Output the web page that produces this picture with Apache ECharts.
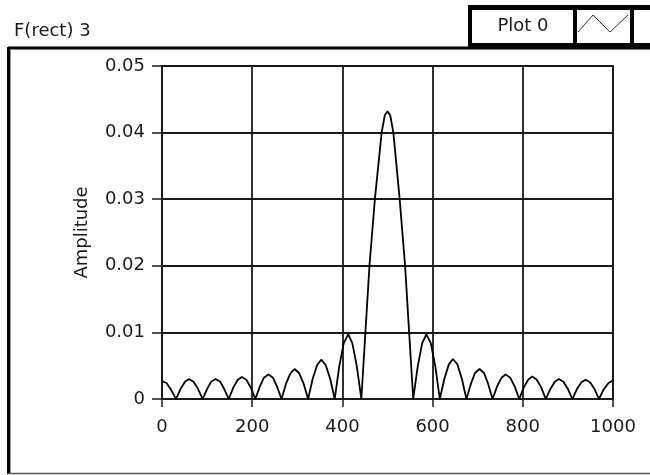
<!DOCTYPE html>
<html>
<head>
<meta charset="utf-8">
<script src="https://cdn.jsdelivr.net/npm/echarts@6/dist/echarts.min.js"></script>
<style>
	html, body { margin: 0; padding: 0; background: #fff; }
	#chart { width: 650px; height: 475px; }
</style>
</head>
<body>
<div id="chart"></div>
<script>
// 曲线数据 (x, 幅值)
var xs = [
	0, 10, 20, 31,
	41, 51, 60, 70, 80, 90,
	100, 109, 119, 129, 138, 148,
	158, 168, 177, 187, 197, 207,
	217, 226, 236, 246, 255, 265,
	275, 285, 294, 304, 314, 324,
	334, 344, 353, 363, 373, 383,
	393, 403, 413, 422, 432, 442,
	451, 460, 472, 487, 494, 500, 506, 513, 527, 539, 548, 557,
	567, 577, 586, 596, 606, 616,
	626, 636, 645, 655, 665, 675,
	685, 694, 704, 714, 723, 733,
	743, 753, 762, 772, 782, 792,
	802, 812, 821, 831, 841, 851,
	861, 871, 880, 890, 900, 910,
	920, 930, 939, 949, 959, 969,
	979, 990, 1000
];
var amps = [
	0.0027, 0.0024, 0.0014, 0,
	0.0015, 0.0026, 0.0030, 0.0026, 0.0015, 0,
	0.0015, 0.0026, 0.0030, 0.0026, 0.0015, 0,
	0.0017, 0.0029, 0.0033, 0.0029, 0.0017, 0,
	0.0019, 0.0032, 0.0037, 0.0032, 0.0019, 0,
	0.0023, 0.0039, 0.0045, 0.0039, 0.0023, 0,
	0.0030, 0.0051, 0.0059, 0.0051, 0.0030, 0,
	0.0049, 0.0084, 0.0097, 0.0084, 0.0049, 0,
	0.010, 0.020, 0.030, 0.040, 0.0426, 0.0432, 0.0426, 0.040, 0.030, 0.020, 0.010, 0,
	0.0049, 0.0084, 0.0097, 0.0084, 0.0049, 0,
	0.0030, 0.0052, 0.0060, 0.0052, 0.0030, 0,
	0.0023, 0.0039, 0.0045, 0.0039, 0.0023, 0,
	0.0019, 0.0032, 0.0037, 0.0032, 0.0019, 0,
	0.0017, 0.0029, 0.0034, 0.0029, 0.0017, 0,
	0.0015, 0.0026, 0.0030, 0.0026, 0.0015, 0,
	0.0015, 0.0025, 0.0029, 0.0025, 0.0015, 0,
	0.0014, 0.0024, 0.0028
];
var xTicks = [0, 200, 400, 600, 800, 1000];
var yTicks = [0, 0.01, 0.02, 0.03, 0.04, 0.05];

var chartTitle = 'F(rect) 3';
var plotName = 'Plot 0';
var yName = 'Amplitude';

var points = [];
for (var i = 0; i < xs.length; i++) {
	points.push([xs[i], amps[i]]);
}

var font = 'DejaVu Sans';
var ink = '#1a1a1a';

var myChart = echarts.init(document.getElementById('chart'), null, { renderer: 'canvas' });

var option = {
	backgroundColor: '#ffffff',
	animation: false,
	title: {
		text: chartTitle,
		left: 9,
		top: 17,
		textStyle: { fontFamily: font, fontSize: 18, fontWeight: 'normal', color: ink }
	},
	grid: {
		left: 162,
		right: 37,
		top: 66,
		bottom: 76,
		show: true,
		borderColor: ink,
		borderWidth: 1.8,
		backgroundColor: 'transparent'
	},
	xAxis: {
		type: 'value',
		min: xTicks[0],
		max: xTicks[xTicks.length - 1],
		interval: 200,
		offset: 4,
		axisLine: { show: false },
		axisTick: { show: true, length: 8, lineStyle: { color: ink, width: 1.5 } },
		axisLabel: {
			margin: 15,
			fontFamily: font,
			fontSize: 18,
			color: ink,
			formatter: function(v) { return String(v); }
		},
		splitLine: { show: true, lineStyle: { color: ink, width: 1.8 } }
	},
	yAxis: {
		type: 'value',
		min: yTicks[0],
		max: yTicks[yTicks.length - 1],
		interval: 0.01,
		offset: 3,
		name: yName,
		nameLocation: 'middle',
		nameGap: 68,
		nameTextStyle: { fontFamily: font, fontSize: 18, color: ink },
		axisLine: { show: false },
		axisTick: { show: true, length: 10, lineStyle: { color: ink, width: 1.5 } },
		axisLabel: { margin: 14, fontFamily: font, fontSize: 18, color: ink },
		splitLine: { show: true, lineStyle: { color: ink, width: 1.8 } }
	},
	series: [{
		name: plotName,
		type: 'line',
		data: points,
		showSymbol: false,
		lineStyle: { color: '#000', width: 1.8 },
		z: 5
	}],
	graphic: [
		// 外框
		{ type: 'line', shape: { x1: 8, y1: 48, x2: 650, y2: 48 }, style: { stroke: '#000', lineWidth: 3 }, z: 1 },
		{ type: 'line', shape: { x1: 8.5, y1: 47, x2: 8.5, y2: 474 }, style: { stroke: '#000', lineWidth: 3 }, z: 1 },
		{ type: 'line', shape: { x1: 10.5, y1: 50, x2: 10.5, y2: 473 }, style: { stroke: '#999', lineWidth: 1 }, z: 1 },
		{ type: 'line', shape: { x1: 8, y1: 473.5, x2: 650, y2: 473.5 }, style: { stroke: '#555', lineWidth: 1.5 }, z: 1 },
		// 图例
		{ type: 'rect', shape: { x: 468, y: 5, width: 182, height: 43 }, style: { fill: '#000' }, z: 2 },
		{ type: 'rect', shape: { x: 472, y: 10, width: 101, height: 33 }, style: { fill: '#fff' }, z: 3 },
		{ type: 'rect', shape: { x: 577, y: 10, width: 53, height: 33 }, style: { fill: '#fff' }, z: 3 },
		{ type: 'rect', shape: { x: 634, y: 10, width: 16, height: 33 }, style: { fill: '#fff' }, z: 3 },
		{
			type: 'text', x: 523, y: 26.5, z: 4,
			style: { text: plotName, fontFamily: font, fontSize: 18, fill: ink, align: 'center', verticalAlign: 'middle' }
		},
		{
			type: 'polyline', z: 4,
			shape: { points: [[578, 32], [593, 15], [610, 32], [628, 15]] },
			style: { stroke: '#333', lineWidth: 1, fill: null }
		}
	]
};

myChart.setOption(option);
</script>
</body>
</html>
